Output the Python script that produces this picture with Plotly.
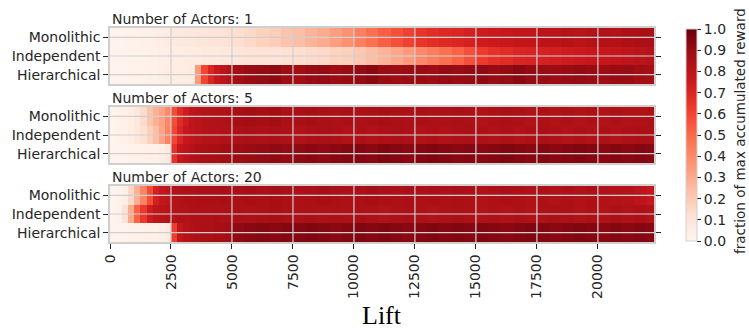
import plotly.graph_objects as go

# ---------------- data ----------------
methods = ["Monolithic", "Independent", "Hierarchical"]
actor_counts = [1, 5, 20]

# bin edges along the Lift axis (fine bins early, coarser later)
lift_edges = [0, 250, 500, 750, 1000, 1250, 1500, 1750, 2000, 2250, 2500,
              2750, 3000, 3250, 3500, 3750, 4000, 4250, 4500, 4750, 5000,
              5500, 6000, 6500, 7000, 7500, 8000, 8500, 9000, 9500, 10000,
              10500, 11000, 11500, 12000, 12500, 13000, 13500, 14000, 14500,
              15000, 15500, 16000, 16500, 17000, 17500, 18000, 18500, 19000,
              19500, 20000, 20500, 21000, 21500, 22000, 22500]
lift_ticks = [0, 2500, 5000, 7500, 10000, 12500, 15000, 17500, 20000]
cbar_ticks = [0.0, 0.1, 0.2, 0.3, 0.4, 0.5, 0.6, 0.7, 0.8, 0.9, 1.0]

# Number of Actors: 1
a1_mono = [0.01, 0.01, 0.02, 0.02, 0.02, 0.03, 0.03, 0.04, 0.05, 0.06,
           0.07, 0.07, 0.08, 0.08, 0.09, 0.09, 0.10, 0.10, 0.11, 0.12,
           0.13, 0.15, 0.17, 0.19, 0.22,
           0.24, 0.27, 0.30, 0.34, 0.38,
           0.43, 0.48, 0.53, 0.57, 0.61,
           0.65, 0.67, 0.69, 0.70, 0.72,
           0.74, 0.75, 0.76, 0.78, 0.78,
           0.80, 0.80, 0.82, 0.81, 0.83,
           0.84, 0.83, 0.85, 0.86, 0.86]
a1_indep = [0.01, 0.01, 0.01, 0.02, 0.02, 0.02, 0.03, 0.03, 0.04, 0.04,
            0.05, 0.05, 0.06, 0.06, 0.06, 0.07, 0.07, 0.07, 0.08, 0.08,
            0.09, 0.10, 0.10, 0.11, 0.12,
            0.13, 0.14, 0.15, 0.17, 0.18,
            0.21, 0.24, 0.27, 0.31, 0.35,
            0.40, 0.44, 0.48, 0.52, 0.57,
            0.63, 0.66, 0.68, 0.70, 0.71,
            0.72, 0.73, 0.74, 0.75, 0.76,
            0.77, 0.78, 0.79, 0.81, 0.82]
a1_hier = [0.01, 0.01, 0.01, 0.02, 0.02, 0.02, 0.03, 0.03, 0.04, 0.05,
           0.05, 0.05, 0.05, 0.06, 0.35, 0.60, 0.70, 0.76, 0.80, 0.83,
           0.88, 0.90, 0.91, 0.92, 0.89,
           0.88, 0.90, 0.91, 0.89, 0.90,
           0.91, 0.93, 0.90, 0.89, 0.90,
           0.90, 0.89, 0.91, 0.90, 0.91,
           0.92, 0.90, 0.91, 0.93, 0.91,
           0.90, 0.89, 0.90, 0.91, 0.90,
           0.89, 0.90, 0.90, 0.88, 0.87]

# Number of Actors: 5
a5_mono = [0.01, 0.02, 0.03, 0.05, 0.08, 0.14, 0.22, 0.28, 0.33, 0.40,
           0.58, 0.68, 0.74, 0.79, 0.81, 0.82, 0.83, 0.84, 0.84, 0.85,
           0.87, 0.88, 0.87, 0.88, 0.86,
           0.86, 0.87, 0.86, 0.85, 0.86,
           0.85, 0.86, 0.87, 0.86, 0.85,
           0.86, 0.85, 0.85, 0.86, 0.85,
           0.84, 0.85, 0.86, 0.85, 0.84,
           0.85, 0.84, 0.85, 0.84, 0.85,
           0.84, 0.85, 0.84, 0.84, 0.85]
a5_indep = [0.01, 0.02, 0.03, 0.05, 0.08, 0.12, 0.18, 0.24, 0.32, 0.42,
            0.60, 0.70, 0.76, 0.79, 0.81, 0.82, 0.83, 0.83, 0.84, 0.84,
            0.85, 0.86, 0.85, 0.86, 0.85,
            0.84, 0.85, 0.86, 0.85, 0.84,
            0.85, 0.84, 0.85, 0.86, 0.85,
            0.84, 0.85, 0.84, 0.85, 0.86,
            0.85, 0.84, 0.85, 0.84, 0.85,
            0.86, 0.85, 0.84, 0.85, 0.84,
            0.85, 0.84, 0.85, 0.86, 0.85]
a5_hier = [0.01, 0.01, 0.01, 0.02, 0.02, 0.02, 0.03, 0.03, 0.04, 0.07,
           0.66, 0.76, 0.80, 0.83, 0.85, 0.86, 0.87, 0.87, 0.88, 0.88,
           0.89, 0.90, 0.91, 0.92, 0.91,
           0.92, 0.93, 0.92, 0.93, 0.94,
           0.94, 0.93, 0.95, 0.94, 0.93,
           0.94, 0.95, 0.94, 0.93, 0.94,
           0.93, 0.94, 0.95, 0.94, 0.93,
           0.94, 0.93, 0.94, 0.95, 0.94,
           0.93, 0.94, 0.93, 0.94, 0.93]

# Number of Actors: 20
a20_mono = [0.01, 0.02, 0.04, 0.15, 0.28, 0.42, 0.58, 0.72, 0.78, 0.80,
            0.83, 0.84, 0.85, 0.85, 0.86, 0.86, 0.86, 0.86, 0.87, 0.86,
            0.86, 0.87, 0.86, 0.87, 0.86,
            0.85, 0.86, 0.87, 0.86, 0.85,
            0.86, 0.87, 0.86, 0.85, 0.86,
            0.85, 0.86, 0.85, 0.86, 0.85,
            0.84, 0.85, 0.86, 0.85, 0.84,
            0.85, 0.84, 0.85, 0.84, 0.85,
            0.84, 0.83, 0.82, 0.80, 0.76]
a20_indep = [0.01, 0.03, 0.12, 0.30, 0.52, 0.64, 0.74, 0.79, 0.81, 0.82,
             0.83, 0.84, 0.84, 0.85, 0.85, 0.85, 0.85, 0.86, 0.85, 0.86,
             0.86, 0.85, 0.86, 0.87, 0.86,
             0.85, 0.86, 0.85, 0.86, 0.85,
             0.86, 0.85, 0.84, 0.85, 0.86,
             0.85, 0.84, 0.85, 0.86, 0.85,
             0.84, 0.85, 0.84, 0.85, 0.84,
             0.85, 0.86, 0.85, 0.84, 0.85,
             0.84, 0.85, 0.84, 0.85, 0.84]
a20_hier = [0.01, 0.01, 0.01, 0.02, 0.02, 0.02, 0.03, 0.03, 0.04, 0.06,
            0.62, 0.78, 0.82, 0.84, 0.85, 0.86, 0.86, 0.87, 0.87, 0.88,
            0.92, 0.93, 0.94, 0.93, 0.94,
            0.94, 0.95, 0.94, 0.93, 0.94,
            0.95, 0.94, 0.95, 0.94, 0.93,
            0.94, 0.95, 0.94, 0.95, 0.94,
            0.95, 0.94, 0.93, 0.94, 0.95,
            0.94, 0.93, 0.94, 0.95, 0.94,
            0.93, 0.94, 0.93, 0.94, 0.93]

panels = [
    [a1_mono, a1_indep, a1_hier],
    [a5_mono, a5_indep, a5_hier],
    [a20_mono, a20_indep, a20_hier],
]

# ---------------- styling ----------------
W, H = 749, 333
reds = ['#fff5f0', '#fee0d2', '#fcbba1', '#fc9272', '#fb6a4a',
        '#ef3b2c', '#cb181d', '#a50f15', '#67000d']
colorscale = [[i / (len(reds) - 1), c] for i, c in enumerate(reds)]
TXT = "#262626"
GRID = "#cfcfcf"
FONT = "DejaVu Sans"

L, R, T, B = 110, 749 - 654, 28, 333 - 242
PW, PH = W - L - R, H - T - B
panel_px = [(28, 84), (107, 163), (186, 242)]


def px_x(x):
    return (x - L) / PW


def px_y(y):
    return (H - B - y) / PH


fig = go.Figure()
annotations = []
shapes = []

for k, (n_act, rows) in enumerate(zip(actor_counts, panels)):
    sfx = "" if k == 0 else str(k + 1)
    top, bot = panel_px[k]
    fig.add_trace(go.Heatmap(
        z=rows, x=lift_edges, y=methods,
        coloraxis="coloraxis",
        xaxis="x" + sfx, yaxis="y" + sfx,
        hovertemplate="%{y}<br>Lift %{x}<br>%{z:.2f}<extra></extra>",
    ))
    last = (k == len(actor_counts) - 1)
    fig.layout["xaxis" + sfx] = dict(
        domain=[0, 1], anchor="y" + sfx, automargin=False,
        range=[0, 22300], tickvals=lift_ticks,
        ticktext=[str(t) for t in lift_ticks],
        showticklabels=last, ticks="outside" if last else "",
        ticklen=5, tickwidth=1.2, tickcolor=TXT, tickangle=-90,
        tickfont=dict(family=FONT, size=14, color=TXT),
        showgrid=False, zeroline=False,
        showline=True, mirror=True, linecolor=GRID, linewidth=1.5,
    )
    fig.layout["yaxis" + sfx] = dict(
        domain=[max(0, px_y(bot)), min(1, px_y(top))], anchor="x" + sfx,
        automargin=False,
        type="category", categoryarray=methods, range=[2.5, -0.5],
        ticks="outside", ticklen=5, tickwidth=1.2, tickcolor=TXT,
        tickfont=dict(family=FONT, size=14, color=TXT),
        showgrid=False, zeroline=False,
        showline=True, mirror="ticks", linecolor=GRID, linewidth=1.5,
    )
    annotations.append(dict(
        text=f"Number of Actors: {n_act}", xref="paper", yref="paper",
        x=0, y=px_y(top), xanchor="left", yanchor="bottom",
        showarrow=False, font=dict(family=FONT, size=14, color=TXT),
        yshift=-1,
    ))
    # grid lines drawn above the heatmap
    for t in lift_ticks[1:]:
        shapes.append(dict(type="line", xref="x" + sfx, yref="y" + sfx + " domain",
                           x0=t, x1=t, y0=0, y1=1, layer="above",
                           line=dict(color=GRID, width=1.2)))
    for i, m in enumerate(methods):
        shapes.append(dict(type="line", xref="x" + sfx + " domain", yref="y" + sfx,
                           x0=0, x1=1, y0=i, y1=i, layer="above",
                           line=dict(color=GRID, width=1.2)))

annotations.append(dict(
    text="Lift", xref="paper", yref="paper", x=0.5,
    y=px_y(332), xanchor="center", yanchor="bottom", showarrow=False,
    font=dict(family="Liberation Serif", size=26, color="black"),
))
# colour bar title (placed as text so it does not push the margins)
annotations.append(dict(
    text="fraction of max accumulated reward", xref="paper", yref="paper",
    x=px_x(740), y=px_y(131), xanchor="center", yanchor="middle",
    textangle=-90, showarrow=False,
    font=dict(family=FONT, size=13.5, color=TXT),
))

fig.update_layout(
    width=W, height=H,
    margin=dict(l=L, r=R, t=T, b=B, pad=0),
    paper_bgcolor="white", plot_bgcolor="white",
    font=dict(family=FONT, color=TXT),
    annotations=annotations, shapes=shapes,
    coloraxis=dict(
        cmin=0, cmax=1, colorscale=colorscale,
        colorbar=dict(
            x=px_x(686), xanchor="left", xpad=0,
            y=px_y(135), yanchor="middle", ypad=0,
            len=212 / PH, lenmode="fraction", thickness=11,
            outlinecolor=GRID, outlinewidth=1,
            tickvals=cbar_ticks, tickformat=".1f",
            ticks="outside", ticklen=4, tickcolor=TXT,
            tickfont=dict(family=FONT, size=14, color=TXT),
        ),
    ),
)

fig.write_html(
    "out.html",
    config={"displayModeBar": False},
    post_script="document.body.style.margin='0';document.body.style.overflow='hidden';",
)
